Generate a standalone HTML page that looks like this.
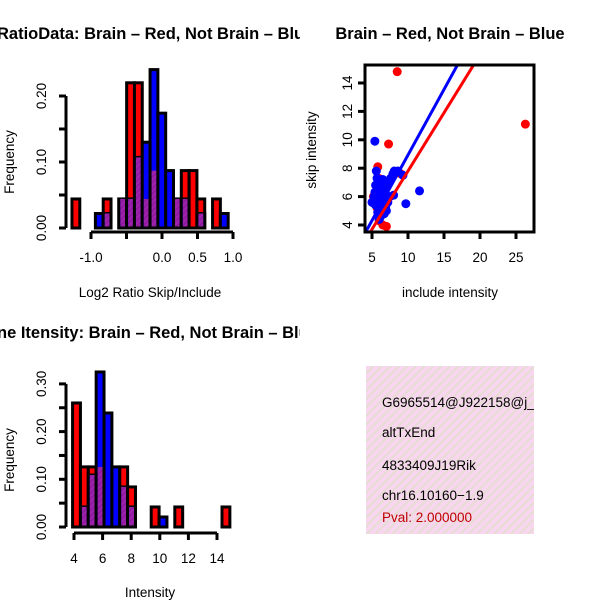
<!DOCTYPE html>
<html><head><meta charset="utf-8"><style>
body{margin:0;background:#fff;width:600px;height:600px;overflow:hidden}
svg{display:block;font-family:"Liberation Sans",sans-serif}
</style></head><body>
<svg id="s" width="600" height="600" xmlns="http://www.w3.org/2000/svg">
<defs>
<pattern id="pink" width="6" height="6" patternUnits="userSpaceOnUse" patternTransform="rotate(45)">
<rect width="6" height="6" fill="#f8d6f0"/><rect width="2" height="6" fill="#e6dcd2"/></pattern>
<pattern id="purp" width="4" height="4" patternUnits="userSpaceOnUse" patternTransform="rotate(45)">
<rect width="4" height="4" fill="#a020b0"/><rect width="1.5" height="4" fill="#8a1c98"/></pattern>
<clipPath id="cl1"><rect x="0" y="0" width="300" height="600"/></clipPath>
<clipPath id="clb"><rect x="366" y="366" width="168" height="168"/></clipPath>
<clipPath id="sc"><rect x="365" y="65" width="169" height="167"/></clipPath>
</defs>
<text x="-3" y="39" font-size="16.5" font-weight="bold" clip-path="url(#cl1)">RatioData: Brain – Red, Not Brain – Blue</text>
<text x="150" y="297" font-size="13.5" text-anchor="middle">Log2 Ratio Skip/Include</text>
<text transform="translate(14,162) rotate(-90)" font-size="13.5" text-anchor="middle">Frequency</text>
<text x="-3" y="338" font-size="16.5" font-weight="bold" clip-path="url(#cl1)">ne Itensity: Brain – Red, Not Brain – Blue</text>
<text x="150" y="597" font-size="13.5" text-anchor="middle">Intensity</text>
<text transform="translate(14,460) rotate(-90)" font-size="13.5" text-anchor="middle">Frequency</text>
<text x="450" y="39" font-size="16.5" font-weight="bold" text-anchor="middle">Brain – Red, Not Brain – Blue</text>
<text x="450" y="297" font-size="13.5" text-anchor="middle">include intensity</text>
<text transform="translate(316,150) rotate(-90)" font-size="13.5" text-anchor="middle">skip intensity</text>
<g clip-path="url(#clb)">
<rect x="366" y="366" width="168" height="168" fill="url(#pink)"/>
<text x="382" y="407" font-size="13.5">G6965514@J922158@j_</text>
<text x="382" y="437" font-size="13.5">altTxEnd</text>
<text x="382" y="470" font-size="13.5">4833409J19Rik</text>
<text x="382" y="500" font-size="13.5">chr16.10160−1.9</text>
<text x="382" y="522" font-size="13.5" fill="#c00000">Pval: 2.000000</text>
</g>
</svg>
<script>
// ratio histogram
const ratioBinStart = -1.268;
const ratioBinWidth = 0.11;
const ratioRed  = [0.044,0,0,0,0.044,0,0.044,0.22,0.22,0.044,0.087,0,0,0.044,0.087,0.087,0.044,0,0.044,0];
const ratioBlue = [0,0,0,0.022,0.022,0,0.044,0.044,0.107,0.13,0.24,0.174,0.087,0.044,0.044,0,0.022,0,0,0.022];
const ratioXTicks = [-1.0,-0.5,0.0,0.5,1.0];
const ratioXLabels = ["-1.0","","0.0","0.5","1.0"];
const ratioYTicks = [0,0.05,0.1,0.15,0.2];
const ratioYLabels = ["0.00","","0.10","","0.20"];
// intensity histogram
const intBinStart = 3.9;
const intBinWidth = 0.55;
const intRed  = [0.26,0.126,0.126,0.126,0,0,0.126,0.084,0,0,0.042,0,0,0.042,0,0,0,0,0,0.042];
const intBlue = [0,0.042,0.109,0.325,0.239,0.126,0.084,0.042,0,0,0,0.021,0,0,0,0,0,0,0,0];
const intXTicks = [4,6,8,10,12,14];
const intYTicks = [0,0.05,0.1,0.15,0.2,0.25,0.3];
const intYLabels = ["0.00","","0.10","","0.20","","0.30"];
// scatter
const redX = [5.8,5.9,5.2,5.7,6.0,6.5,7.0,8.5,7.3,26.3,9.0,5.5,6.3];
const redY = [8.1,7.3,6.0,5.2,4.3,4.0,3.9,14.8,9.7,11.1,7.6,5.6,4.8];
const blueX = [5.4,11.6,9.7,5.6,5.7,5.8,5.5,6.0,6.2,5.3,5.0,5.5,6.3,6.6,6.8,7.0,7.3,7.6,7.9,8.1,8.6,9.3,7.5,8.0,6.4,6.7,6.9,6.2,7.2,5.9,6.1,5.4,6.5,7.0,5.8,6.0];
const blueY = [9.9,6.4,5.5,7.8,7.3,7.0,6.8,6.5,6.2,6.0,5.6,5.4,5.8,6.1,6.3,6.7,7.0,7.3,7.6,7.8,7.8,7.5,6.0,6.1,5.0,4.8,5.3,4.6,5.6,5.8,6.9,6.3,7.2,5.0,4.9,4.4];
const fitIntercept = [-0.4, -0.3]; // [red, blue]
const fitSlope = [0.82, 0.923];
const scXTicks = [5,10,15,20,25];
const scYTicks = [4,6,8,10,12,14];

const svg = document.getElementById('s');
const NS = 'http://www.w3.org/2000/svg';
function mk(tag, attrs, parent){const e=document.createElementNS(NS,tag);for(const k in attrs)e.setAttribute(k,attrs[k]);(parent||svg).appendChild(e);return e;}

function hist(opts){
  const {x,y,start,w,red,blue,xt,xl,yt,yl,xAxisY,yAxisX,prefix}=opts;
  const g=mk('g',{});
  
  
  for(let i=0;i<red.length;i++){
    const x0=x(start+i*w), x1=x(start+(i+1)*w);
    const r=red[i], b=blue[i], m=Math.min(r,b);
    if(r>0){const e=mk('rect',{x:x0,y:y(r),width:x1-x0,height:y(0)-y(r),fill:'#ff0000',stroke:'#000','stroke-width':3},g);
      
      }
    if(b>0){const e=mk('rect',{x:x0,y:y(b),width:x1-x0,height:y(0)-y(b),fill:'#0000ff',stroke:'#000','stroke-width':3},g);
      
      }
    if(m>0){const e=mk('rect',{x:x0+1.5,y:y(m),width:x1-x0-3,height:y(0)-y(m)-1.5,fill:'url(#purp)'},g);
      
      }
  }
  const ax=mk('g',{stroke:'#000','stroke-width':3,fill:'none'});
  
  
  mk('line',{x1:yAxisX,x2:yAxisX,y1:y(yt[0]),y2:y(yt[yt.length-1])},ax);
  yt.forEach((v,i)=>{mk('line',{x1:yAxisX-7,x2:yAxisX,y1:y(v),y2:y(v)},ax);
    if(yl[i]){const t=mk('text',{transform:`translate(${yAxisX-20},${y(v)}) rotate(-90)`,'font-size':13.5,'text-anchor':'middle'});t.textContent=yl[i];
      
      }});
  mk('line',{x1:x(xt[0]),x2:x(xt[xt.length-1]),y1:xAxisY,y2:xAxisY},ax);
  xt.forEach((v,i)=>{mk('line',{x1:x(v),x2:x(v),y1:xAxisY,y2:xAxisY+7},ax);
    if(xl[i]){const t=mk('text',{x:x(v),y:xAxisY+30,'font-size':13.5,'text-anchor':'middle'});t.textContent=xl[i];
      
      }});
}
hist({x:v=>91+(v+1)*71,y:v=>228-v*660,start:ratioBinStart,w:ratioBinWidth,red:ratioRed,blue:ratioBlue,
  xt:ratioXTicks,xl:ratioXLabels,yt:ratioYTicks,yl:ratioYLabels,xAxisY:232,yAxisX:66,prefix:'ratio'});
hist({x:v=>74+(v-4)*14.3,y:v=>527-v*477,start:intBinStart,w:intBinWidth,red:intRed,blue:intBlue,
  xt:intXTicks,xl:intXTicks.map(String),yt:intYTicks,yl:intYLabels,xAxisY:533,yAxisX:66,prefix:'intensity'});

// scatter
const sx=v=>372+(v-5)*7.2, sy=v=>225-(v-4)*14.2;
const sg=mk('g',{'clip-path':'url(#sc)'});


redX.forEach((v,i)=>{const c=mk('circle',{cx:sx(v),cy:sy(redY[i]),r:4.5,fill:'#ff0000'},sg);
  
  });
blueX.forEach((v,i)=>{const c=mk('circle',{cx:sx(v),cy:sy(blueY[i]),r:4.5,fill:'#0000ff'},sg);
  
  });
['#ff0000','#0000ff'].forEach((col,k)=>{
  const l=mk('line',{x1:sx(0),y1:sy(fitIntercept[k]),x2:sx(30),y2:sy(fitIntercept[k]+fitSlope[k]*30),stroke:col,'stroke-width':3},sg);
  
  
});
const fr=mk('rect',{x:365,y:65,width:169,height:167,fill:'none',stroke:'#000','stroke-width':3});


scXTicks.forEach(v=>{mk('line',{x1:sx(v),x2:sx(v),y1:232,y2:239,stroke:'#000','stroke-width':3});
  const t=mk('text',{x:sx(v),y:262,'font-size':13.5,'text-anchor':'middle'});t.textContent=v;
  
  });
scYTicks.forEach(v=>{mk('line',{x1:358,x2:365,y1:sy(v),y2:sy(v),stroke:'#000','stroke-width':3});
  const t=mk('text',{transform:`translate(${352},${sy(v)}) rotate(-90)`,'font-size':13.5,'text-anchor':'middle'});t.textContent=v;
  
  });
</script>
</body></html>
